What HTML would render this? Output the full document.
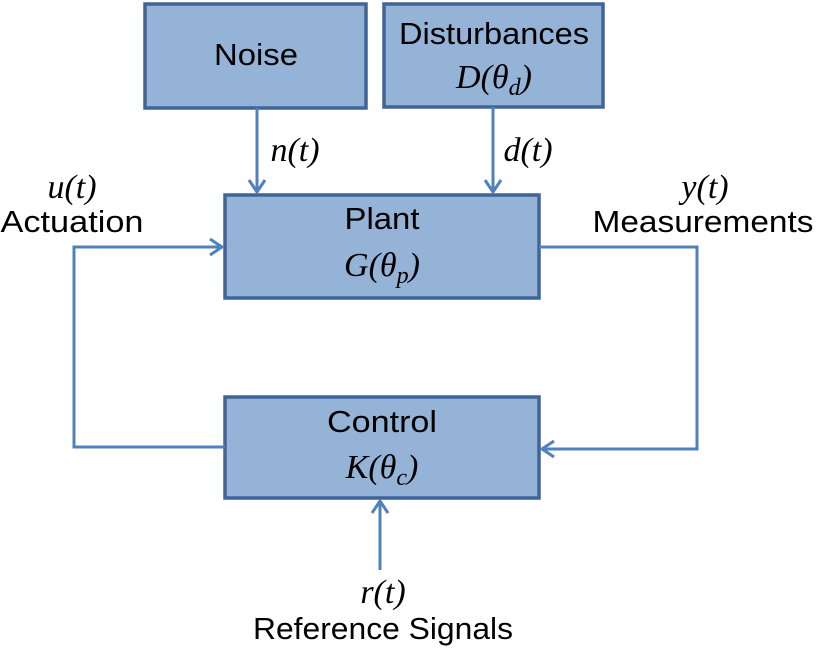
<!DOCTYPE html>
<html><head><style>
body{margin:0;width:817px;height:650px;background:#fff;overflow:hidden}
</style></head><body>
<svg width="817" height="650" xmlns="http://www.w3.org/2000/svg" style="position:absolute;left:0;top:0">
<g fill="#95b3d7" stroke="#3f6497" stroke-width="3.5">
<rect x="145" y="4" width="221" height="104"/>
<rect x="384" y="4" width="219" height="103"/>
<rect x="225" y="195" width="314" height="103"/>
<rect x="225" y="397" width="314" height="101"/>
</g>
<g stroke="#4f81bd" stroke-width="3" fill="none">
<path d="M257 108V192M249 180L257 192L265 180"/>
<path d="M493 107V192M485 180L493 192L501 180"/>
<path d="M225 447H74V247H222M210 239L222 247L210 255"/>
<path d="M539 247H697V449H542M554 441L542 449L554 457"/>
<path d="M380 570V501M372 513L380 501L388 513"/>
</g>
<g font-family="Liberation Sans, sans-serif" font-size="31" text-anchor="middle" fill="#000">
<text x="256" y="65" textLength="84" lengthAdjust="spacingAndGlyphs">Noise</text>
<text x="494" y="44" textLength="190" lengthAdjust="spacingAndGlyphs">Disturbances</text>
<text x="382" y="229" textLength="75" lengthAdjust="spacingAndGlyphs">Plant</text>
<text x="382" y="432" textLength="110" lengthAdjust="spacingAndGlyphs">Control</text>
<text x="72" y="232" textLength="143" lengthAdjust="spacingAndGlyphs">Actuation</text>
<text x="703" y="232" textLength="221" lengthAdjust="spacingAndGlyphs">Measurements</text>
<text x="383" y="639" textLength="260" lengthAdjust="spacingAndGlyphs">Reference Signals</text>
</g>
<g font-family="Liberation Serif, serif" font-size="34" font-style="italic" text-anchor="middle" fill="#000">
<text x="494" y="88">D(θ<tspan font-size="24" dy="7">d</tspan><tspan dy="-7">)</tspan></text>
<text x="382" y="276">G(θ<tspan font-size="24" dy="7">p</tspan><tspan dy="-7">)</tspan></text>
<text x="382" y="478">K(θ<tspan font-size="24" dy="7">c</tspan><tspan dy="-7">)</tspan></text>
<text x="295" y="161">n(t)</text>
<text x="528" y="161">d(t)</text>
<text x="72" y="198">u(t)</text>
<text x="705" y="198">y(t)</text>
<text x="383" y="603">r(t)</text>
</g>
</svg>
</body></html>
